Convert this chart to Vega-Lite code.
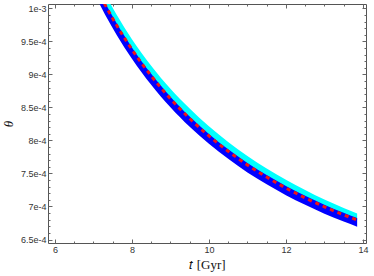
{
  "$schema": "https://vega.github.io/schema/vega-lite/v6.json",
  "width": 318,
  "height": 239,
  "autosize": "none",
  "padding": {"left": 48, "top": 4, "right": 8, "bottom": 33},
  "background": "white",
  "config": {
    "view": {"stroke": "#555555", "strokeWidth": 1},
    "axis": {
      "domain": false,
      "grid": false,
      "tickColor": "#666666",
      "tickWidth": 1,
      "labelFont": "Liberation Sans",
      "labelFontSize": 9,
      "labelColor": "#333333",
      "labelFlush": false,
      "labelOverlap": false,
      "zindex": 1
    }
  },
  "data": {
    "values": [
      {"t": 7.0, "red": 0.0010403, "c_hi": 0.0010563, "b_lo": 0.0010253, "b_hi": 0.0010433},
      {"t": 7.3, "red": 0.0010060, "c_hi": 0.0010220, "b_lo": 0.0009910, "b_hi": 0.0010090},
      {"t": 7.6, "red": 0.0009749, "c_hi": 0.0009909, "b_lo": 0.0009604, "b_hi": 0.0009779},
      {"t": 8.0, "red": 0.0009380, "c_hi": 0.0009535, "b_lo": 0.0009240, "b_hi": 0.0009410},
      {"t": 8.5, "red": 0.0008980, "c_hi": 0.0009132, "b_lo": 0.0008845, "b_hi": 0.0009010},
      {"t": 9.0, "red": 0.0008634, "c_hi": 0.0008784, "b_lo": 0.0008504, "b_hi": 0.0008664},
      {"t": 9.5, "red": 0.0008333, "c_hi": 0.0008483, "b_lo": 0.0008208, "b_hi": 0.0008363},
      {"t": 10.0, "red": 0.0008069, "c_hi": 0.0008214, "b_lo": 0.0007949, "b_hi": 0.0008099},
      {"t": 10.5, "red": 0.0007837, "c_hi": 0.0007977, "b_lo": 0.0007722, "b_hi": 0.0007867},
      {"t": 11.0, "red": 0.0007630, "c_hi": 0.0007765, "b_lo": 0.0007515, "b_hi": 0.0007660},
      {"t": 11.5, "red": 0.0007446, "c_hi": 0.0007576, "b_lo": 0.0007336, "b_hi": 0.0007476},
      {"t": 12.0, "red": 0.0007280, "c_hi": 0.0007405, "b_lo": 0.0007170, "b_hi": 0.0007310},
      {"t": 12.5, "red": 0.0007131, "c_hi": 0.0007251, "b_lo": 0.0007026, "b_hi": 0.0007161},
      {"t": 13.0, "red": 0.0006996, "c_hi": 0.0007106, "b_lo": 0.0006891, "b_hi": 0.0007026},
      {"t": 13.5, "red": 0.0006874, "c_hi": 0.0006979, "b_lo": 0.0006774, "b_hi": 0.0006904},
      {"t": 13.85, "red": 0.0006795, "c_hi": 0.0006895, "b_lo": 0.0006695, "b_hi": 0.0006825}
    ]
  },
  "layer": [
    {
      "mark": {"type": "area", "color": "#00ffff", "interpolate": "monotone", "clip": true},
      "encoding": {
        "x": {
          "field": "t", "type": "quantitative",
          "scale": {"domain": [5.82, 14.08], "nice": false, "zero": false},
          "axis": {
            "orient": "bottom",
            "values": [6, 8, 10, 12, 14],
            "tickSize": -4,
            "labelPadding": 6,
            "title": "𝑡 [Gyr]",
            "titleFont": "Liberation Serif",
            "titleFontSize": 13,
            "titleFontWeight": "normal",
            "titleColor": "#111111",
            "titlePadding": 4
          }
        },
        "y": {
          "field": "red", "type": "quantitative",
          "scale": {"domain": [0.0006447, 0.0010068], "nice": false, "zero": false},
          "axis": {
            "orient": "left",
            "values": [0.00065, 0.0007, 0.00075, 0.0008, 0.00085, 0.0009, 0.00095, 0.001],
            "labelExpr": "datum.value > 0.00099 ? '1e-3' : format(datum.value * 10000, '.2~g') + 'e-4'",
            "tickSize": -4,
            "labelPadding": 6,
            "title": "θ",
            "titleFont": "Liberation Serif",
            "titleFontStyle": "italic",
            "titleFontSize": 13,
            "titleFontWeight": "normal",
            "titleColor": "#111111",
            "titlePadding": 5
          }
        },
        "y2": {"field": "c_hi"}
      }
    },
    {
      "mark": {"type": "area", "color": "#0000ff", "interpolate": "monotone", "clip": true},
      "encoding": {
        "x": {
          "field": "t", "type": "quantitative",
          "axis": {
            "orient": "bottom",
            "values": [6.5, 7, 7.5, 8.5, 9, 9.5, 10.5, 11, 11.5, 12.5, 13, 13.5],
            "tickSize": -2,
            "labels": false,
            "title": null
          }
        },
        "y": {
          "field": "b_lo", "type": "quantitative",
          "axis": {
            "orient": "left",
            "values": [0.00066, 0.00067, 0.00068, 0.00069, 0.00071, 0.00072, 0.00073, 0.00074, 0.00076, 0.00077, 0.00078, 0.00079, 0.00081, 0.00082, 0.00083, 0.00084, 0.00086, 0.00087, 0.00088, 0.00089, 0.00091, 0.00092, 0.00093, 0.00094, 0.00096, 0.00097, 0.00098, 0.00099],
            "tickSize": -2,
            "labels": false,
            "title": null
          }
        },
        "y2": {"field": "b_hi"}
      }
    },
    {
      "mark": {"type": "line", "color": "#f01414", "strokeWidth": 3, "strokeDash": [4, 4], "interpolate": "monotone", "clip": true},
      "encoding": {
        "x": {
          "field": "t", "type": "quantitative",
          "axis": {
            "orient": "top",
            "values": [6, 8, 10, 12, 14],
            "tickSize": -4,
            "labels": false,
            "title": null
          }
        },
        "y": {
          "field": "red", "type": "quantitative",
          "axis": {
            "orient": "right",
            "values": [0.00065, 0.0007, 0.00075, 0.0008, 0.00085, 0.0009, 0.00095, 0.001],
            "tickSize": -4,
            "labels": false,
            "title": null
          }
        }
      }
    },
    {
      "mark": {"type": "line", "opacity": 0, "clip": true},
      "encoding": {
        "x": {
          "field": "t", "type": "quantitative",
          "axis": {
            "orient": "top",
            "values": [6.5, 7, 7.5, 8.5, 9, 9.5, 10.5, 11, 11.5, 12.5, 13, 13.5],
            "tickSize": -2,
            "labels": false,
            "title": null
          }
        },
        "y": {
          "field": "red", "type": "quantitative",
          "axis": {
            "orient": "right",
            "values": [0.00066, 0.00067, 0.00068, 0.00069, 0.00071, 0.00072, 0.00073, 0.00074, 0.00076, 0.00077, 0.00078, 0.00079, 0.00081, 0.00082, 0.00083, 0.00084, 0.00086, 0.00087, 0.00088, 0.00089, 0.00091, 0.00092, 0.00093, 0.00094, 0.00096, 0.00097, 0.00098, 0.00099],
            "tickSize": -2,
            "labels": false,
            "title": null
          }
        }
      }
    }
  ],
  "resolve": {"axis": {"x": "independent", "y": "independent"}}
}
